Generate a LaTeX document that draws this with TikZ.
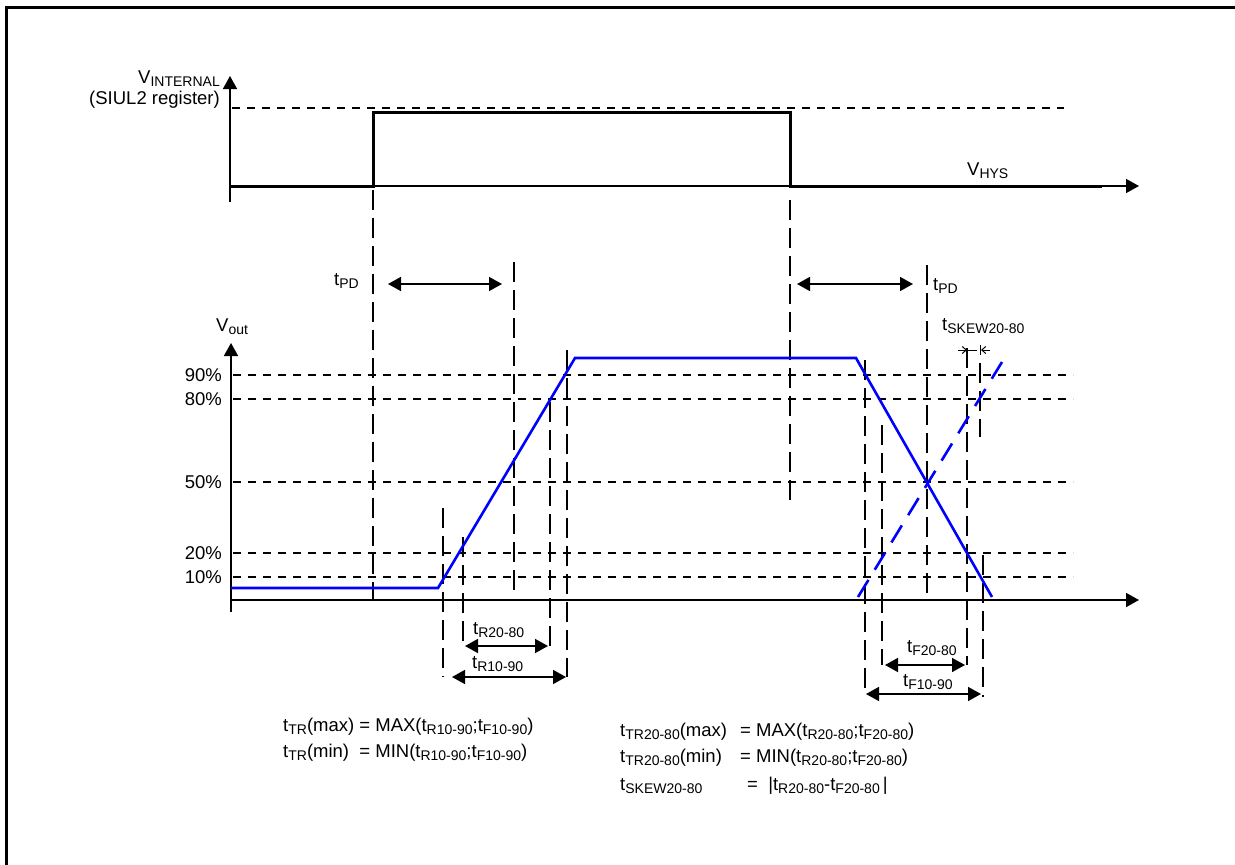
\documentclass[tikz,border=0pt]{standalone}
\usepackage{fontspec}
\setmainfont{Liberation Sans}
\usetikzlibrary{arrows.meta}
\newcommand\lo[1]{\raisebox{-3pt}{\fontsize{14}{14}\selectfont #1}}

\begin{document}
\begin{tikzpicture}[x=1pt, y=-1pt,
  every node/.style={font=\fontsize{18.5}{20}\selectfont, inner sep=0pt},
  border/.style={line width=3pt},
  axisline/.style={line width=1.6pt, -{Triangle[length=13pt, width=14pt]}},
  pulse/.style={line width=3pt},
  vout/.style={draw=blue, line width=2.6pt},
  vmirror/.style={vout, dash pattern=on 20pt off 12pt},
  pct/.style={line width=1.3pt, dash pattern=on 8pt off 7pt},
  guide/.style={line width=1.8pt, dash pattern=on 20pt off 8pt},
  span/.style={line width=1.6pt, {Triangle[length=13pt, width=14pt]}-{Triangle[length=13pt, width=14pt]}},
  skewtip/.style={line width=1pt, -{Straight Barb[length=4pt, width=7pt]}}]
  \useasboundingbox (0,0) rectangle (1235,865);
  \draw[border] (6,865) -- (6,7) -- (1235,7);

  % internal signal
  \draw[axisline] (230,202) -- (230,76);
  \draw[axisline] (230,186) -- (1139,186);
  \draw[pct] (232,108) -- (1064,108);
  \draw[pulse] (230,186) -- (373,186) -- (373,112) -- (790,112) -- (790,186) -- (1102,186);
  \node[anchor=base east] (vint) at (220,83) {V\lo{INTERNAL}};
  \node[anchor=base east] (siul) at (220,104) {(SIUL2 register)};
  \node[anchor=base west] (vhys) at (967,175) {V\lo{HYS}};

  % propagation delay
  \draw[guide] (373,190) -- (373,600);
  \draw[guide] (790,200) -- (790,502);
  \draw[guide] (514,262) -- (514,592);
  \draw[guide] (927,265) -- (927,595);
  \draw[span] (388,284) -- (502,284);
  \draw[span] (797,284) -- (913,284);
  \node[anchor=base west] (tpdl) at (334,285) {t\lo{PD}};
  \node[anchor=base west] (tpdr) at (933,290) {t\lo{PD}};

  % output
  \draw[axisline] (231,612) -- (231,343);
  \draw[axisline] (231,600) -- (1139,600);
  \node[anchor=base west] (vo) at (216,331) {V\lo{out}};
  \foreach \p/\y in {90/375, 80/399, 50/482, 20/553, 10/577} {
    \draw[pct] (233,\y) -- (1073,\y);
    \node[anchor=east] (p\p) at (222,\y) {\p\%};
  }
  \foreach \x/\a/\b in {443/508/677, 463/537/648, 550/402/648, 567/350/677,
    865/360/690, 882/425/665, 967/348/665, 980/363/437, 983/555/697}
    \draw[guide] (\x,\a) -- (\x,\b);
  \draw[vout] (231,588) -- (438,588) -- (575,358) -- (856,358) -- (992,597);
  \draw[vmirror] (858,597) -- (1002,362);

  % rise and fall times
  \draw[span] (465,646) -- (548,646);
  \draw[span] (452,677) -- (566,677);
  \draw[span] (885,665) -- (965,665);
  \draw[span] (866,694) -- (981,694);
  \node[anchor=base west] (tr28) at (473,634) {t\lo{R20-80}};
  \node[anchor=base west] (tr19) at (472,668) {t\lo{R10-90}};
  \node[anchor=base west] (tf28) at (907,652) {t\lo{F20-80}};
  \node[anchor=base west] (tf19) at (903,686) {t\lo{F10-90}};

  % skew
  \draw[skewtip] (958,350) -- (967,350);
  \draw[line width=1pt] (967,350) -- (977,350);
  \draw[line width=1pt] (980,345) -- (980,355);
  \draw[skewtip] (990,350) -- (981,350);
  \node[anchor=base west] (tskew) at (942,330) {t\lo{SKEW20-80}};

  % formulas
  \node[anchor=base west] (trmax) at (283,731) {t\lo{TR}(max) = MAX(t\lo{R10-90};t\lo{F10-90})};
  \node[anchor=base west] (trmin) at (283,757) {t\lo{TR}(min)\ \ = MIN(t\lo{R10-90};t\lo{F10-90})};
  \node[anchor=base west] (t28max) at (620,736) {t\lo{TR20-80}(max)};
  \node[anchor=base west] (t28maxv) at (740,736) {= MAX(t\lo{R20-80};t\lo{F20-80})};
  \node[anchor=base west] (t28min) at (620,762) {t\lo{TR20-80}(min)};
  \node[anchor=base west] (t28minv) at (740,762) {= MIN(t\lo{R20-80};t\lo{F20-80})};
  \node[anchor=base west] (skew) at (620,790) {t\lo{SKEW20-80}};
  \node[anchor=base west] (skewv) at (747,790) {=\ \ |t\lo{R20-80}-t\lo{F20-80}\,|};
\end{tikzpicture}
\end{document}
